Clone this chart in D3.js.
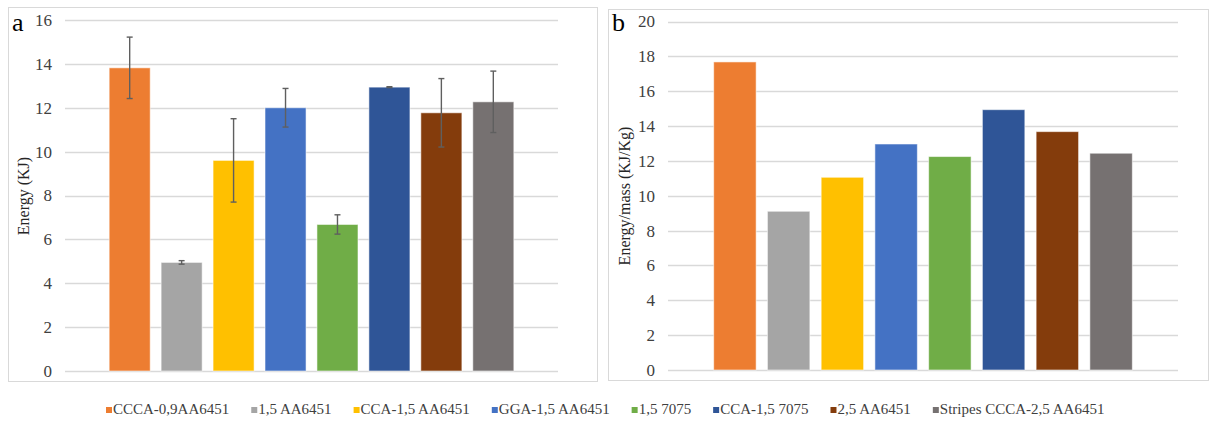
<!DOCTYPE html>
<html>
<head>
<meta charset="utf-8">
<script src="https://cdn.jsdelivr.net/npm/d3@7"></script>
<style>
  body { margin: 0; background: #fff; }
  svg text { font-family: "Times New Roman", "Liberation Serif", "DejaVu Serif", serif !important; }
</style>
</head>
<body>
<svg id="chart" width="1215" height="421"></svg>
<script>
// series (one cluster, eight series like the Excel original)
const seriesNames = ["CCCA-0,9AA6451", "1,5 AA6451", "CCA-1,5 AA6451", "GGA-1,5 AA6451",
  "1,5 7075", "CCA-1,5 7075", "2,5 AA6451", "Stripes CCCA-2,5 AA6451"]
const seriesColors = ["#ED7D31", "#A5A5A5", "#FFC000", "#4472C4",
  "#70AD47", "#2F5597", "#843C0C", "#767171"]

// panel a : energy (KJ) with error bars
const energy = [13.82, 4.95, 9.6, 12.0, 6.68, 12.94, 11.77, 12.27]
const energyErr = [1.4, 0.08, 1.9, 0.88, 0.44, 0.02, 1.56, 1.4]
const ticksA = [0, 2, 4, 6, 8, 10, 12, 14, 16]

// panel b : energy / mass (KJ/Kg)
const energyMass = [17.68, 9.11, 11.06, 12.97, 12.25, 14.94, 13.68, 12.44]
const ticksB = [0, 2, 4, 6, 8, 10, 12, 14, 16, 18, 20]

const FONT = '"Times New Roman", "Liberation Serif", serif'
const svg = d3.select("#chart").attr("font-family", FONT)

function drawPanel(p) {
  const g = svg.append("g")

  // frame
  g.append("rect")
    .attr("x", p.frame[0] + 0.5).attr("y", p.frame[1] + 0.5)
    .attr("width", p.frame[2]).attr("height", p.frame[3])
    .attr("fill", "none").attr("stroke", "#d9d9d9").attr("stroke-width", 1)

  const y = d3.scaleLinear().domain([0, d3.max(p.ticks)]).range([p.y0, p.y1])
  const x = d3.scaleBand().domain(seriesNames).range([p.x0, p.x1])
    .paddingInner(0.21).paddingOuter(0.85)

  // gridlines
  g.append("g").selectAll("line").data(p.ticks).join("line")
    .attr("x1", p.x0).attr("x2", p.x1)
    .attr("y1", d => Math.round(y(d)) + 0.5).attr("y2", d => Math.round(y(d)) + 0.5)
    .attr("stroke", "#d9d9d9").attr("stroke-width", 1.3)

  // tick labels
  const ax = g.append("g").attr("transform", `translate(${p.x0 - 13},0)`)
    .call(d3.axisLeft(y).tickValues(p.ticks).tickSize(0).tickPadding(0))
  ax.attr("font-family", FONT)
  ax.select(".domain").remove()
  ax.selectAll("text").attr("font-size", 17).attr("fill", "#404040")

  // bars
  g.append("g").selectAll("rect").data(p.values).join("rect")
    .attr("x", (d, i) => x(seriesNames[i]))
    .attr("y", d => y(d))
    .attr("width", x.bandwidth())
    .attr("height", d => y(0) - y(d))
    .attr("fill", (d, i) => seriesColors[i])
    .attr("stroke", "#fff").attr("stroke-opacity", 0.55).attr("stroke-width", 1)

  // error bars
  if (p.errors) {
    const eb = g.append("g").attr("stroke", "#5f5f5f").attr("stroke-width", 1.4)
    p.values.forEach((v, i) => {
      const cx = x(seriesNames[i]) + x.bandwidth() / 2
      const hi = y(v + p.errors[i]), lo = y(v - p.errors[i])
      eb.append("line").attr("x1", cx).attr("x2", cx).attr("y1", hi).attr("y2", lo)
      eb.append("line").attr("x1", cx - 3).attr("x2", cx + 3).attr("y1", hi).attr("y2", hi)
      eb.append("line").attr("x1", cx - 3).attr("x2", cx + 3).attr("y1", lo).attr("y2", lo)
    })
  }

  // axis title
  g.append("text")
    .attr("transform", `translate(${p.titleX},${p.titleY}) rotate(-90)`)
    .attr("text-anchor", "middle").attr("dominant-baseline", "central")
    .attr("font-size", 16).attr("fill", "#262626")
    .text(p.title)

  // panel letter
  g.append("text").attr("x", p.letterX).attr("y", 31)
    .attr("font-size", 26).attr("fill", "#000").text(p.letter)
}

drawPanel({
  frame: [8, 7, 589, 374], x0: 65, x1: 558, y0: 371, y1: 20,
  ticks: ticksA, values: energy, errors: energyErr,
  title: "Energy  (KJ)", titleX: 23, titleY: 196, letter: "a", letterX: 12
})

drawPanel({
  frame: [608, 9, 600, 371], x0: 668, x1: 1178, y0: 370, y1: 21.5,
  ticks: ticksB, values: energyMass, errors: null,
  title: "Energy/mass  (KJ/Kg)", titleX: 624, titleY: 196, letter: "b", letterX: 612
})

// legend, laid out from measured text widths
const legend = svg.append("g")
const items = legend.selectAll("g").data(seriesNames).join("g")
items.append("rect").attr("width", 6).attr("height", 6).attr("y", -7)
  .attr("fill", (d, i) => seriesColors[i])
items.append("text").attr("x", 7).attr("y", 0)
  .attr("font-size", 15).attr("fill", "#404040").text(d => d)

let cursor = 106
const gap = 22
items.each(function () {
  const w = d3.select(this).select("text").node().getComputedTextLength()
  d3.select(this).attr("transform", `translate(${cursor},414)`)
  cursor += 7 + w + gap
})
</script>
</body>
</html>
